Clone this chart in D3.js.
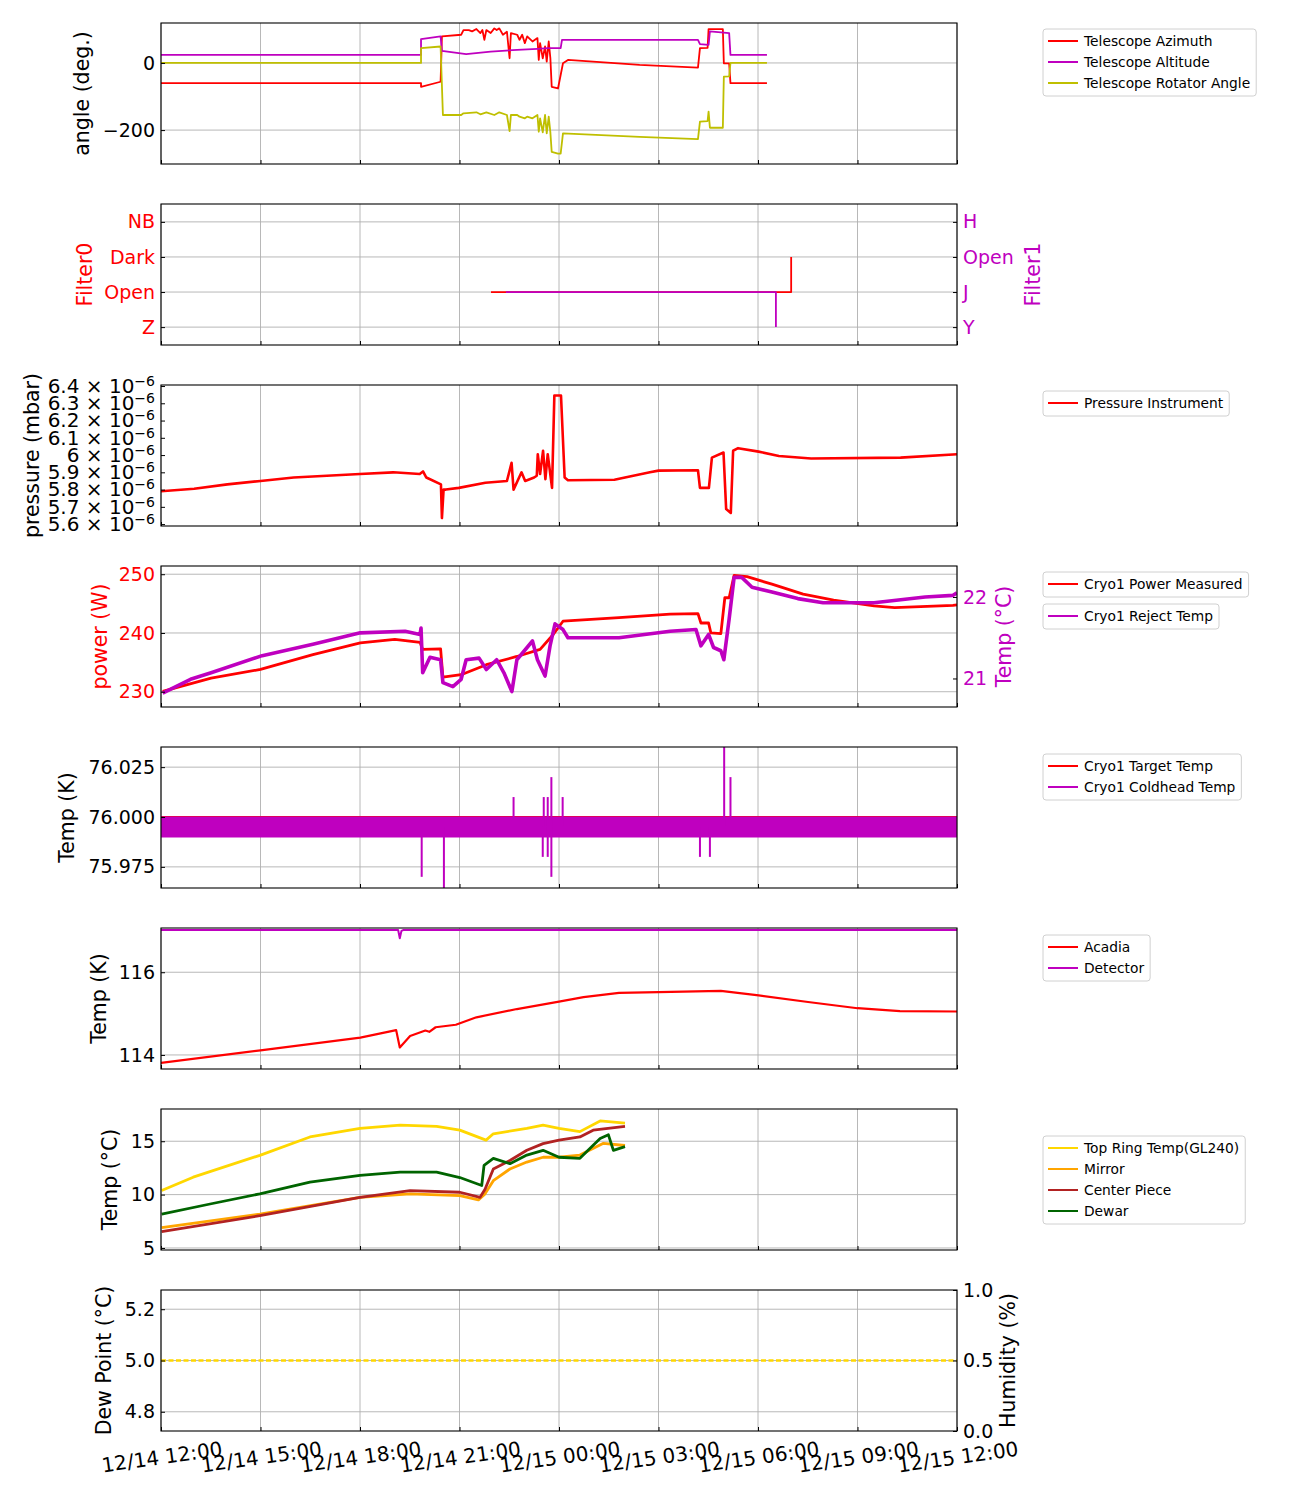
<!DOCTYPE html>
<html>
<head>
<meta charset="utf-8">
<script src="https://cdn.jsdelivr.net/npm/d3@7"></script>
<style>
body { margin: 0; background: #fff; }
svg text { font-family: "DejaVu Sans", sans-serif; }
</style>
</head>
<body>
<svg id="chart" width="1300" height="1500"></svg>
<script>
// times are hours after 12/14 12:00
const azimuth = [[0,-60],[7.84,-60],[7.84,-71],[8.43,-56],[8.47,79],[9.05,84],[9.12,98],[9.28,98],[9.38,94],[9.51,101],[9.63,89],[9.69,98],[9.75,69],[9.81,98],[9.94,89],[10.05,103],[10.12,98],[10.2,103],[10.31,84],[10.43,93],[10.51,14],[10.55,89],[10.74,84],[10.81,69],[10.89,84],[10.97,59],[11.04,79],[11.2,64],[11.35,74],[11.39,9],[11.43,59],[11.51,14],[11.58,49],[11.63,4],[11.69,64],[11.74,14],[11.78,-71],[11.97,-76],[12.12,-1],[12.27,9],[14.43,-6],[16.19,-14],[16.25,44],[16.48,45],[16.51,101],[16.94,101],[16.97,-1],[17.13,-1],[17.17,-60],[18.27,-60]];
const altitude = [[0,24],[7.84,24],[7.84,71],[8.43,79],[8.47,36],[9.2,26],[9.94,34],[10.74,39],[11.35,42],[11.66,44],[12.05,44],[12.09,69],[16.19,69],[16.25,56],[16.51,54],[16.55,94],[17.13,89],[17.17,24],[18.27,24]];
const rotator = [[0,0],[7.84,0],[7.84,44],[8.43,49],[8.5,-155],[9.05,-155],[9.12,-150],[9.51,-147],[9.63,-153],[9.81,-147],[10.05,-155],[10.2,-147],[10.43,-155],[10.51,-203],[10.55,-155],[10.74,-155],[10.81,-160],[10.97,-165],[11.04,-160],[11.2,-165],[11.35,-155],[11.39,-205],[11.43,-165],[11.51,-207],[11.58,-155],[11.63,-210],[11.69,-160],[11.74,-207],[11.78,-265],[11.97,-270],[12.05,-270],[12.12,-210],[14.43,-220],[16.19,-227],[16.25,-175],[16.48,-173],[16.51,-145],[16.55,-193],[16.94,-193],[16.97,-41],[17.13,-40],[17.17,0],[18.27,0]];

const filter0Cats = ["Z", "Open", "Dark", "NB"];
const filter1Cats = ["Y", "J", "Open", "H"];
const filter0 = [[9.95,"Open"],[19.0,"Dark"]];
const filter1 = [[10.4,"J"],[18.54,"Y"]];

// pressure in units of 1e-6 mbar
const pressure = [[0,5.79],[1.0,5.805],[2.0,5.83],[3.0,5.85],[4.0,5.87],[5.0,5.88],[6.0,5.89],[7.0,5.90],[7.8,5.89],[7.9,5.905],[8.0,5.87],[8.44,5.83],[8.47,5.635],[8.52,5.80],[8.59,5.80],[8.98,5.81],[9.78,5.84],[10.43,5.85],[10.57,5.955],[10.63,5.80],[10.87,5.90],[10.98,5.85],[11.25,5.87],[11.33,5.88],[11.36,6.005],[11.43,5.89],[11.52,6.025],[11.59,5.86],[11.66,6.005],[11.79,5.81],[11.86,6.345],[12.06,6.345],[12.17,5.87],[12.27,5.854],[13.67,5.857],[14.74,5.90],[15.0,5.91],[16.19,5.912],[16.25,5.81],[16.52,5.81],[16.61,5.985],[16.96,6.015],[17.04,5.687],[17.18,5.665],[17.25,6.025],[17.40,6.04],[18.02,6.02],[18.63,5.995],[19.60,5.98],[22.30,5.985],[24.0,6.005]];
const pressureTicks = [5.6,5.7,5.8,5.9,6.0,6.1,6.2,6.3,6.4];

const cryoPower = [[0.05,230.05],[1.51,232.3],[3.0,233.8],[4.58,236.3],[6.01,238.3],[7.05,238.9],[7.81,238.4],[7.89,237.2],[8.43,237.3],[8.50,232.5],[9.05,232.9],[9.81,234.6],[10.73,236],[11.43,237.2],[11.82,239.7],[12.12,242],[13.81,242.6],[15.35,243.2],[16.19,243.3],[16.28,241.7],[16.51,241.7],[16.58,240],[16.88,239.9],[17.0,246],[17.13,246],[17.28,249.8],[17.67,249.6],[18.42,248.3],[19.36,246.6],[20.28,245.6],[21.5,244.6],[22.12,244.3],[23.88,244.7],[24,244.8]];
const rejectTemp = [[0.05,20.82],[0.89,20.99],[1.51,21.07],[3.05,21.28],[4.58,21.42],[6.01,21.56],[7.36,21.58],[7.81,21.54],[7.84,21.62],[7.89,21.07],[8.11,21.26],[8.43,21.23],[8.50,20.95],[8.80,20.9],[9.05,20.99],[9.20,21.23],[9.59,21.25],[9.81,21.11],[10.12,21.23],[10.34,21.07],[10.58,20.84],[10.73,21.23],[11.20,21.46],[11.35,21.23],[11.58,21.03],[11.73,21.4],[11.88,21.67],[12.12,21.6],[12.27,21.5],[13.81,21.5],[15.35,21.58],[16.13,21.6],[16.28,21.4],[16.51,21.54],[16.66,21.38],[16.88,21.34],[16.97,21.23],[17.13,21.73],[17.28,22.24],[17.51,22.24],[17.82,22.12],[18.42,22.06],[19.20,21.98],[19.96,21.93],[21.5,21.93],[23.04,22.0],[23.88,22.02],[24,22.05]];

const targetTemp = [[0,76.0],[24,76.0]];
const coldheadBand = [[0,75.99,76.0],[24,75.99,76.0]];
const coldheadSpikes = [[7.86,75.97],[8.53,75.96],[10.63,76.01],[11.51,75.98],[11.54,76.01],[11.66,76.01],[11.66,75.98],[11.77,76.02],[11.77,75.97],[12.11,76.01],[16.25,75.98],[16.55,75.98],[16.98,76.04],[17.17,76.02]];

const acadia = [[0,113.81],[3.0,114.11],[6.01,114.42],[7.09,114.6],[7.2,114.18],[7.51,114.46],[7.97,114.59],[8.09,114.56],[8.28,114.67],[8.89,114.73],[9.51,114.91],[10.73,115.11],[12.0,115.29],[12.74,115.4],[13.81,115.5],[15.0,115.52],[16.88,115.55],[18.02,115.44],[19.51,115.28],[21.0,115.13],[22.28,115.06],[24.0,115.05]];
const detector = [[0,117.02],[7.15,117.02],[7.2,116.82],[7.25,117.0],[7.3,117.02],[24,117.02]];

const topRing = [[0.02,10.38],[0.97,11.63],[2.98,13.68],[4.49,15.4],[6.0,16.2],[7.21,16.5],[8.31,16.4],[9.01,16.04],[9.80,15.1],[10.02,15.7],[11.03,16.2],[11.52,16.5],[12.0,16.2],[12.63,15.9],[13.24,16.9],[13.99,16.7]];
const mirror = [[0.02,6.9],[2.98,8.18],[6.0,9.75],[7.51,10.07],[9.01,9.9],[9.57,9.5],[9.77,10.07],[10.02,11.3],[10.52,12.4],[11.03,13.05],[11.52,13.5],[12.0,13.5],[12.63,13.7],[13.34,14.8],[13.99,14.6]];
const centerPiece = [[0.02,6.54],[2.98,8.02],[6.0,9.75],[7.51,10.38],[9.01,10.22],[9.62,9.75],[9.77,10.5],[10.02,12.4],[10.52,13.2],[11.03,14.15],[11.52,14.78],[12.0,15.1],[12.63,15.4],[13.03,16.04],[13.99,16.4]];
const dewar = [[0.02,8.18],[1.48,9.12],[2.98,10.07],[4.49,11.16],[6.0,11.8],[7.21,12.1],[8.31,12.1],[9.01,11.6],[9.67,10.85],[9.74,12.74],[10.02,13.4],[10.52,12.9],[11.03,13.7],[11.52,14.15],[12.0,13.5],[12.63,13.4],[13.24,15.25],[13.49,15.6],[13.64,14.15],[13.99,14.5]];

const dewPoint = [[0,5.0],[24,5.0]];

const RED = "#ff0000", MAG = "#bf00bf", OLIVE = "#bfbf00";

const svg = d3.select("#chart");
const t0 = new Date(2024, 11, 14, 12, 0);
const hr = h => new Date(t0.getTime() + h * 3600000);
const left = 161, right = 957, H = 141;
const x = d3.scaleTime().domain([t0, hr(24)]).range([left, right]);
const xTicks = d3.range(0, 25, 3).map(hr);

let panelCount = 0;
function addPanel(top, yDomain, yTicks) {
    const g = svg.append("g").attr("transform", `translate(0,${top})`);
    const y = d3.scaleLinear().domain(yDomain).range([H, 0]);
    const id = "clip" + (panelCount++);
    g.append("clipPath").attr("id", id)
        .append("rect").attr("x", left).attr("y", 0).attr("width", right - left).attr("height", H);
    const grid = g.append("g");
    grid.selectAll("line.vx").data(xTicks).enter().append("line")
        .attr("x1", d => x(d)).attr("x2", d => x(d)).attr("y1", 0).attr("y2", H)
        .attr("stroke", "#b0b0b0").attr("stroke-width", 0.9);
    grid.selectAll("line.hy").data(yTicks).enter().append("line")
        .attr("x1", left).attr("x2", right).attr("y1", d => y(d)).attr("y2", d => y(d))
        .attr("stroke", "#b0b0b0").attr("stroke-width", 0.9);
    const plot = g.append("g").attr("clip-path", `url(#${id})`);
    const frame = g.append("g");
    frame.append("g").attr("transform", `translate(0,${H})`)
        .call(d3.axisBottom(x).tickValues(xTicks).tickSize(-4).tickFormat(""))
        .call(a => a.select(".domain").remove());
    frame.append("rect").attr("x", left).attr("y", 0).attr("width", right - left).attr("height", H)
        .attr("fill", "none").attr("stroke", "#000").attr("stroke-width", 1.1);
    return { g, y, plot, frame };
}

function leftAxis(p, scale, ticks, fmt, color) {
    const a = p.frame.append("g").attr("transform", `translate(${left},0)`)
        .call(d3.axisLeft(scale).tickValues(ticks).tickFormat(fmt).tickSize(-4).tickPadding(6));
    a.select(".domain").remove();
    a.selectAll("text").attr("font-size", 19).attr("fill", color || "#000").attr("font-family", "DejaVu Sans");
    a.selectAll("line").attr("stroke", "#000");
    return a;
}
function rightAxis(p, scale, ticks, fmt, color) {
    const a = p.frame.append("g").attr("transform", `translate(${right},0)`)
        .call(d3.axisRight(scale).tickValues(ticks).tickFormat(fmt).tickSize(-4).tickPadding(6));
    a.select(".domain").remove();
    a.selectAll("text").attr("font-size", 19).attr("fill", color || "#000").attr("font-family", "DejaVu Sans");
    a.selectAll("line").attr("stroke", "#000");
    return a;
}
function yLabel(top, xPos, text, color) {
    svg.append("text")
        .attr("transform", `translate(${xPos},${top + H / 2}) rotate(-90)`)
        .attr("text-anchor", "middle").attr("dominant-baseline", "central")
        .attr("font-size", 20.5).attr("fill", color || "#000").text(text);
}
function drawLine(p, data, yScale, color, width, curve) {
    p.plot.append("path").datum(data)
        .attr("fill", "none").attr("stroke", color).attr("stroke-width", width || 1.8)
        .attr("stroke-linejoin", "round")
        .attr("d", d3.line().x(d => x(hr(d[0]))).y(d => yScale(d[1])).curve(curve || d3.curveLinear));
}
function legend(top, entries) {
    const lg = svg.append("g");
    const box = lg.append("rect").attr("x", 1043).attr("y", top).attr("rx", 3)
        .attr("height", 21 * entries.length + 4)
        .attr("fill", "#fff").attr("fill-opacity", 0.8).attr("stroke", "#d0d0d0");
    let maxW = 0;
    entries.forEach((e, i) => {
        const cy = top + 12 + 21 * i;
        lg.append("line").attr("x1", 1048).attr("x2", 1078).attr("y1", cy).attr("y2", cy)
            .attr("stroke", e.color).attr("stroke-width", 2);
        const t = lg.append("text").attr("x", 1084).attr("y", cy)
            .attr("dominant-baseline", "central").attr("font-size", 13.8).text(e.label);
        maxW = Math.max(maxW, t.node().getComputedTextLength());
    });
    box.attr("width", 1084 + maxW + 6 - 1043);
}

const tops = [23, 204, 385, 566, 747, 928, 1109, 1290];

// 1. telescope angles
const p1 = addPanel(tops[0], [-301, 119], [0, -200]);
drawLine(p1, azimuth, p1.y, RED);
drawLine(p1, altitude, p1.y, MAG);
drawLine(p1, rotator, p1.y, OLIVE);
leftAxis(p1, p1.y, [0, -200], d3.format("d"));
yLabel(tops[0], 82, "angle (deg.)");
legend(29, [{label: "Telescope Azimuth", color: RED}, {label: "Telescope Altitude", color: MAG}, {label: "Telescope Rotator Angle", color: OLIVE}]);

// 2. filters
const p2 = addPanel(tops[1], [-0.51, 3.51], [0, 1, 2, 3]);
const f0 = filter0.map(d => [d[0], filter0Cats.indexOf(d[1])]);
const f1 = filter1.map(d => [d[0], filter1Cats.indexOf(d[1])]);
drawLine(p2, f0, p2.y, RED, 1.8, d3.curveStepAfter);
drawLine(p2, f1, p2.y, MAG, 1.8, d3.curveStepAfter);
leftAxis(p2, p2.y, [0, 1, 2, 3], i => filter0Cats[i], RED);
rightAxis(p2, p2.y, [0, 1, 2, 3], i => filter1Cats[i], MAG);
yLabel(tops[1], 85, "Filter0", RED);
yLabel(tops[1], 1033, "Filter1", MAG);

// 3. pressure
const p3 = addPanel(tops[2], [5.589, 6.406], []);
drawLine(p3, pressure, p3.y, RED, 2.6);
const pa = leftAxis(p3, p3.y, pressureTicks, () => "");
pa.selectAll(".tick text").attr("font-size", 20).each(function (d) {
    const t = d3.select(this);
    t.append("tspan").text(d3.format("~g")(d) + " \u00d7 10");
    t.append("tspan").attr("dy", "-0.5em").attr("font-size", 14).text("\u22126");
});
yLabel(tops[2], 32, "pressure (mbar)");
legend(391, [{label: "Pressure Instrument", color: RED}]);

// 4. cryo power / reject temp
const p4 = addPanel(tops[3], [227.4, 251.4], [230, 240, 250]);
const y4r = d3.scaleLinear().domain([20.65, 22.38]).range([H, 0]);
drawLine(p4, cryoPower, p4.y, RED, 2.8);
drawLine(p4, rejectTemp, y4r, MAG, 3.6);
leftAxis(p4, p4.y, [230, 240, 250], d3.format("d"), RED);
rightAxis(p4, y4r, [21, 22], d3.format("d"), MAG);
yLabel(tops[3], 100, "power (W)", RED);
yLabel(tops[3], 1004, "Temp (\u00b0C)", MAG);
legend(572, [{label: "Cryo1 Power Measured", color: RED}]);
legend(604, [{label: "Cryo1 Reject Temp", color: MAG}]);

// 5. cryo target / coldhead
const p5 = addPanel(tops[4], [75.9644, 76.0351], [75.975, 76.0, 76.025]);
drawLine(p5, targetTemp, p5.y, RED);
p5.plot.append("path").datum(coldheadBand)
    .attr("fill", MAG).attr("stroke", MAG).attr("stroke-width", 1.2)
    .attr("d", d3.area().x(d => x(hr(d[0]))).y0(d => p5.y(d[1])).y1(d => p5.y(d[2])));
p5.plot.selectAll("line.spike").data(coldheadSpikes).enter().append("line")
    .attr("x1", d => x(hr(d[0]))).attr("x2", d => x(hr(d[0])))
    .attr("y1", p5.y(75.995)).attr("y2", d => p5.y(d[1]))
    .attr("stroke", MAG).attr("stroke-width", 2);
leftAxis(p5, p5.y, [75.975, 76.0, 76.025], d3.format(".3f"));
yLabel(tops[4], 67, "Temp (K)");
legend(754, [{label: "Cryo1 Target Temp", color: RED}, {label: "Cryo1 Coldhead Temp", color: MAG}]);

// 6. acadia / detector
const p6 = addPanel(tops[5], [113.66, 117.07], [114, 116]);
drawLine(p6, acadia, p6.y, RED, 2.2);
drawLine(p6, detector, p6.y, MAG, 2);
leftAxis(p6, p6.y, [114, 116], d3.format("d"));
yLabel(tops[5], 99, "Temp (K)");
legend(935, [{label: "Acadia", color: RED}, {label: "Detector", color: MAG}]);

// 7. telescope temperatures
const p7 = addPanel(tops[6], [4.81, 18.02], [5, 10, 15]);
drawLine(p7, topRing, p7.y, "#ffd700", 2.8);
drawLine(p7, mirror, p7.y, "#ffa500", 2.8);
drawLine(p7, centerPiece, p7.y, "#b22222", 2.8);
drawLine(p7, dewar, p7.y, "#006400", 2.8);
leftAxis(p7, p7.y, [5, 10, 15], d3.format("d"));
yLabel(tops[6], 110, "Temp (\u00b0C)");
legend(1136, [{label: "Top Ring Temp(GL240)", color: "#ffd700"}, {label: "Mirror", color: "#ffa500"}, {label: "Center Piece", color: "#b22222"}, {label: "Dewar", color: "#006400"}]);

// 8. dew point / humidity
const p8 = addPanel(tops[7], [4.725, 5.275], [4.8, 5.0, 5.2]);
const y8r = d3.scaleLinear().domain([0, 1]).range([H, 0]);
p8.plot.append("path").datum(dewPoint)
    .attr("fill", "none").attr("stroke", "#ffd700").attr("stroke-width", 2.4).attr("stroke-dasharray", "5,2.5")
    .attr("d", d3.line().x(d => x(hr(d[0]))).y(d => p8.y(d[1])));
leftAxis(p8, p8.y, [4.8, 5.0, 5.2], d3.format(".1f"));
rightAxis(p8, y8r, [0, 0.5, 1], d3.format(".1f"));
yLabel(tops[7], 104, "Dew Point (\u00b0C)");
yLabel(tops[7], 1008, "Humidity (%)");

// date labels under the last panel
const fmt = d3.timeFormat("%m/%d %H:%M");
svg.append("g").selectAll("text").data(xTicks).enter().append("text")
    .attr("transform", d => `translate(${x(d) + 1},${tops[7] + H + 26}) rotate(-8)`)
    .attr("text-anchor", "middle").attr("dominant-baseline", "central")
    .attr("font-size", 20).text(d => fmt(d));
</script>
</body>
</html>
